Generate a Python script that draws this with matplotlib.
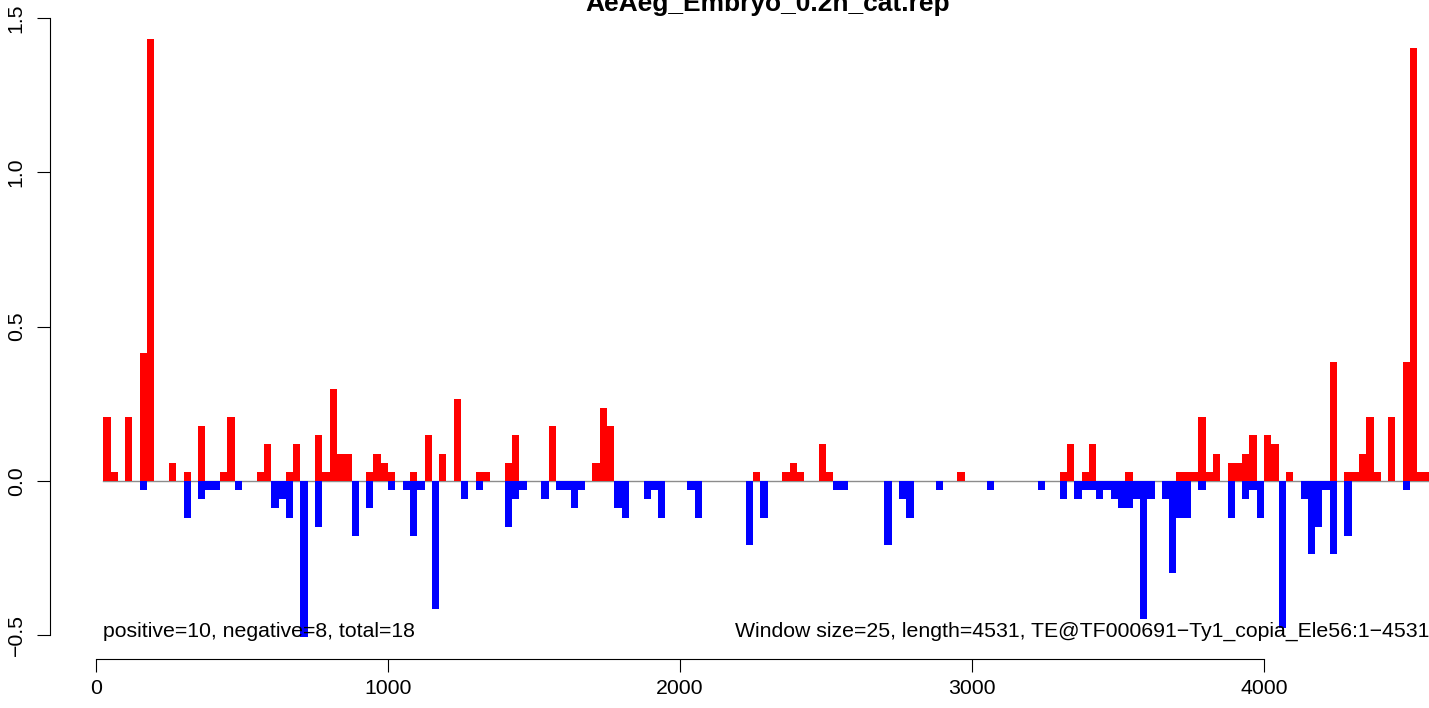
import matplotlib
matplotlib.use("Agg")
import matplotlib.pyplot as plt

# window index (window size 25 bp) and score per window
window_size = 25
seq_length = 4531

pos_windows = [1, 2, 4, 6, 7, 10, 12, 14, 17, 18, 22, 23, 26, 27, 30, 31, 32, 33, 34,
               37, 38, 39, 40, 43, 45, 47, 49, 52, 53, 56, 57, 62, 68, 69, 70, 90, 94,
               95, 96, 99, 100, 118, 132, 133, 135, 136, 141, 148, 149, 150, 151, 152,
               153, 155, 156, 157, 158, 160, 161, 163, 169, 171, 172, 173, 174, 175,
               177, 179, 180, 181, 182]
pos_values = [0.208, 0.030, 0.208, 0.416, 1.432, 0.059, 0.030, 0.178, 0.030, 0.208,
              0.030, 0.119, 0.030, 0.119, 0.149, 0.030, 0.297, 0.089, 0.089, 0.030,
              0.089, 0.059, 0.030, 0.030, 0.149, 0.089, 0.267, 0.030, 0.030, 0.059,
              0.149, 0.178, 0.059, 0.238, 0.178, 0.030, 0.030, 0.059, 0.030, 0.119,
              0.030, 0.030, 0.030, 0.119, 0.030, 0.119, 0.030, 0.030, 0.030, 0.030,
              0.208, 0.030, 0.089, 0.059, 0.059, 0.089, 0.149, 0.149, 0.119, 0.030,
              0.386, 0.030, 0.030, 0.089, 0.208, 0.030, 0.208, 0.386, 1.402, 0.030,
              0.030]

neg_windows = [6, 12, 14, 15, 16, 19, 24, 25, 26, 28, 30, 35, 37, 40, 42, 43, 44, 46,
               50, 52, 56, 57, 58, 61, 63, 64, 65, 66, 71, 72, 75, 76, 77, 81, 82, 89,
               91, 101, 102, 108, 110, 111, 115, 122, 129, 132, 134, 135, 136, 137,
               138, 139, 140, 141, 142, 143, 144, 146, 147, 148, 149, 151, 155, 157,
               158, 159, 162, 165, 166, 167, 168, 169, 171, 179]
neg_values = [-0.030, -0.119, -0.059, -0.030, -0.030, -0.030, -0.089, -0.059, -0.119,
              -0.505, -0.149, -0.178, -0.089, -0.030, -0.030, -0.178, -0.030, -0.416,
              -0.059, -0.030, -0.149, -0.059, -0.030, -0.059, -0.030, -0.030, -0.089,
              -0.030, -0.089, -0.119, -0.059, -0.030, -0.119, -0.030, -0.119, -0.208,
              -0.119, -0.030, -0.030, -0.208, -0.059, -0.119, -0.030, -0.030, -0.030,
              -0.059, -0.059, -0.030, -0.030, -0.059, -0.030, -0.059, -0.089, -0.089,
              -0.059, -0.446, -0.059, -0.059, -0.297, -0.119, -0.119, -0.030, -0.119,
              -0.059, -0.030, -0.119, -0.475, -0.059, -0.238, -0.149, -0.030, -0.238,
              -0.178, -0.030]

plt.rcParams["font.family"] = ["Liberation Sans", "DejaVu Sans"]
fs = 15.3

W, H = 1429, 708
fig = plt.figure(figsize=(W / 100, H / 100), dpi=100)
# plot region runs past the right edge like the original (cropped R device)
ax = fig.add_axes([50 / W, 49 / H, 1436 / W, 643 / H])

ax.plot([window_size, (max(pos_windows) + 1) * window_size], [0, 0],
        color="#8c8c8c", lw=1.0, zorder=1)
ax.bar([w * window_size for w in pos_windows], pos_values, width=window_size,
       align="edge", color="#ff0000", linewidth=0, zorder=2)
ax.bar([w * window_size for w in neg_windows], neg_values, width=window_size,
       align="edge", color="#0000ff", linewidth=0, zorder=2)

ax.set_xlim(-157.5, 4760)
ax.set_ylim(-0.5766, 1.5063)

for s in ["top", "right"]:
    ax.spines[s].set_visible(False)
ax.spines["left"].set_bounds(-0.5, 1.5)
ax.spines["bottom"].set_bounds(0, 4000)
for s in ["left", "bottom"]:
    ax.spines[s].set_linewidth(0.8)

ax.set_xticks([0, 1000, 2000, 3000, 4000])
ax.set_yticks([-0.5, 0.0, 0.5, 1.0, 1.5])
ax.set_yticklabels(["\u22120.5", "0.0", "0.5", "1.0", "1.5"], rotation=90, va="center")
ax.tick_params(axis="both", direction="out", length=9.4, width=0.8, labelsize=fs)
ax.tick_params(axis="x", pad=5)
ax.tick_params(axis="y", pad=8)

ax.text(window_size, -0.488, "positive=10, negative=8, total=18",
        ha="left", va="center", fontsize=fs)
ax.text(4566, -0.488,
        "Window size=25, length=4531, TE@TF000691\u2212Ty1_copia_Ele56:1\u22124531",
        ha="right", va="center", fontsize=fs)

fig.text(768 / W, 1 - 11 / H, "AeAeg_Embryo_0.2h_cat.rep", ha="center",
         va="baseline", fontsize=19, fontweight="bold")

fig.savefig("out.png", dpi=100)
